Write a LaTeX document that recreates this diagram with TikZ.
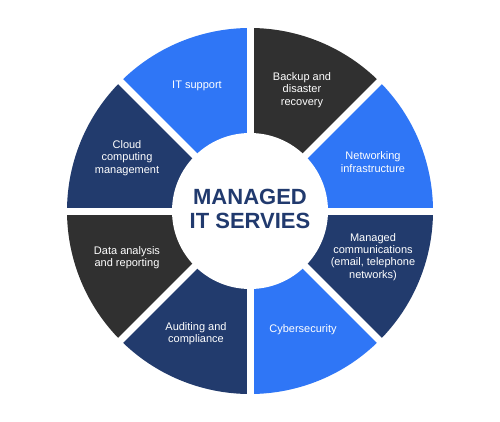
\documentclass[tikz,border=0pt]{standalone}
\usepackage{fontspec}
\setmainfont{Liberation Sans}
\definecolor{blueA}{HTML}{2F76F6}
\definecolor{navyA}{HTML}{223B6D}
\definecolor{darkA}{HTML}{303030}
\definecolor{titleA}{HTML}{213A6E}
\tikzset{
  lbl/.style={text=white, font=\fontsize{11}{12.2}\selectfont, align=center, inner sep=0pt},
  ttl/.style={text=titleA, font=\fontsize{22}{24}\selectfont\bfseries, align=center, inner sep=0pt}
}
\begin{document}
\begin{tikzpicture}[x=1pt,y=1pt]
\useasboundingbox[fill=white] (0,0) rectangle (500,421);
\coordinate (c) at (250,210);
\foreach \a/\col in {90/blueA, 45/darkA, 0/blueA, -45/navyA, -90/blueA, -135/navyA, 180/darkA, 135/navyA}
  \fill[\col] (c) -- ++(\a:183) arc[start angle=\a, delta angle=45, radius=183] -- cycle;
\foreach \a in {0,45,90,135}
  \draw[white, line width=7pt] ([shift={(\a:190)}]c) -- ([shift={(\a+180:190)}]c);
\fill[white] (c) circle (78);
\node[ttl] (title) at (250,212) {MANAGED\\IT SERVIES};
\node[lbl] (its) at (197,335) {IT support};
\node[lbl] (bdr) at (302,331) {Backup and\\disaster\\recovery};
\node[lbl] (ccm) at (127,263) {Cloud\\computing\\management};
\node[lbl] (net) at (373,259) {Networking\\infrastructure};
\node[lbl] (dar) at (127,163) {Data analysis\\and reporting};
\node[lbl] (mco) at (373,164) {Managed\\communications\\(email, telephone\\networks)};
\node[lbl] (aud) at (196,87) {Auditing and\\compliance};
\node[lbl] (cyb) at (303,91) {Cybersecurity};
\end{tikzpicture}
\end{document}
